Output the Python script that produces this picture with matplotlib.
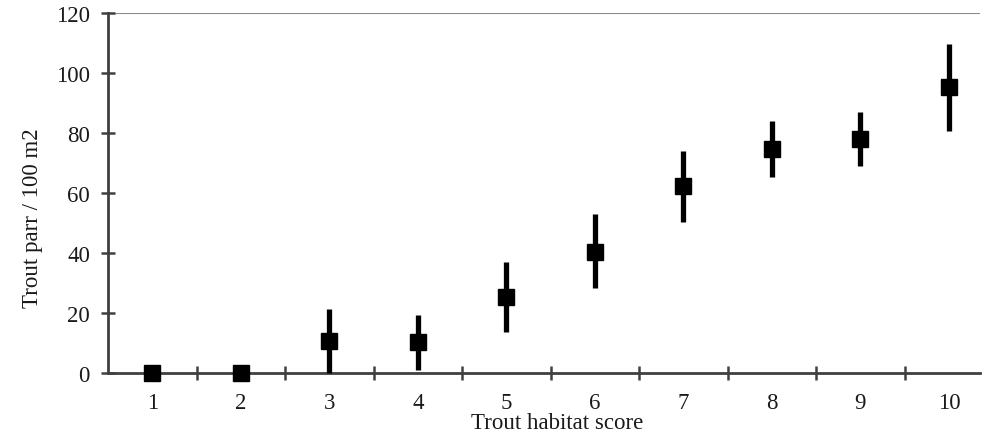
import matplotlib
matplotlib.use("Agg")
import matplotlib.pyplot as plt
import numpy as np

scores = [1, 2, 3, 4, 5, 6, 7, 8, 9, 10]
tick_labels = ["1", "2", "3", "4", "5", "6", "7", "8", "9", "10"]
parr_mean = [0, 0, 10.8, 10.2, 25.2, 40.4, 62.3, 74.7, 78.0, 95.3]
err_upper = [0, 0, 21.3, 19.3, 37.1, 53.0, 74.0, 84.0, 87.0, 109.7]
err_lower = [0, 0, 0, 1.0, 13.6, 28.2, 50.3, 65.3, 69.0, 80.7]

plt.rcParams['font.family'] = ['Liberation Serif', 'DejaVu Serif']

fig = plt.figure(figsize=(9.87, 4.39), dpi=100)
ax = fig.add_axes([108/987, 1-374/439, (980-108)/987, (374-14)/439])

x = np.array(scores)
m = np.array(parr_mean)
yerr = np.array([m - np.array(err_lower), np.array(err_upper) - m])
ax.errorbar(x, m, yerr=yerr, fmt='s', color='black', ms=11.5,
            elinewidth=3.8, capsize=0, zorder=3, clip_on=False)

ax.set_xlim(0.5, 10.35)
ax.set_ylim(0, 120)
ax.set_yticks(np.arange(0, 121, 20))
ax.set_xticks(x)
ax.set_xticklabels(tick_labels)
ax.set_xticks(np.arange(1.5, 10.0, 1), minor=True)

ax.axhline(120, color='#8a8a8a', lw=1.5, zorder=1)
for s in ['top', 'right']:
    ax.spines[s].set_visible(False)
for s in ['left', 'bottom']:
    ax.spines[s].set_color('#404040')
    ax.spines[s].set_linewidth(2)

fs = 16.5
ax.tick_params(axis='y', direction='inout', length=10, width=1.8, color='#404040',
               labelsize=fs, pad=8, labelcolor='#1a1a1a')
ax.tick_params(axis='x', which='major', length=0, labelsize=fs, pad=14, labelcolor='#1a1a1a')
ax.tick_params(axis='x', which='minor', direction='inout', length=10, width=1.8, color='#404040')

ax.set_xlabel('Trout habitat score', fontsize=fs, color='#1a1a1a')
ax.set_ylabel('Trout parr / 100 m2', fontsize=fs, color='#1a1a1a')
ax.xaxis.set_label_coords((557-108)/872, (374-413)/360)
ax.yaxis.set_label_coords((33-108)/872, (374-218)/360)
ax.yaxis.label.set_va('center')

fig.savefig('out.png', dpi=100)
